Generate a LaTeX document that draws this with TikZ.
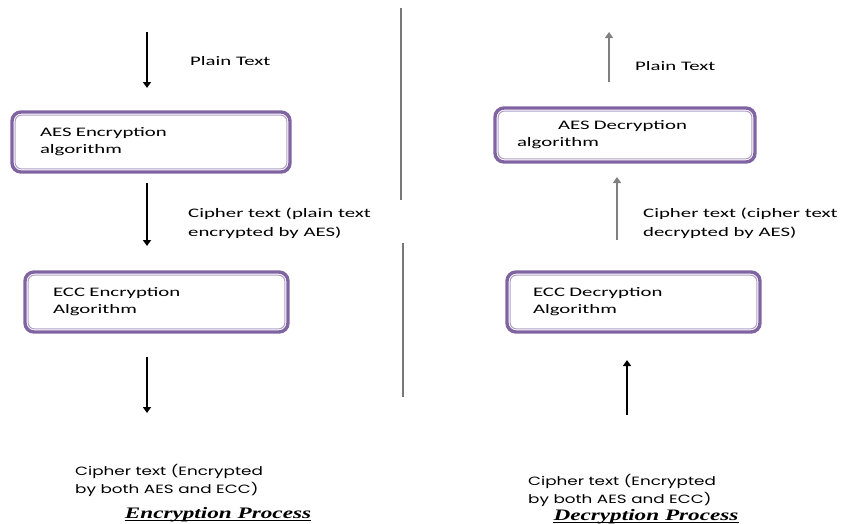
\documentclass[tikz,border=0pt]{standalone}
\usepackage{fontspec}
\usetikzlibrary{arrows.meta}
\newfontfamily\calib[FakeStretch=1.6]{Carlito}
\newfontfamily\roundfont[FakeStretch=1.4]{Poppins}
\newfontfamily\headfont[FakeStretch=1.45]{Liberation Serif}
\definecolor{boxpurple}{RGB}{128,100,162}
\definecolor{framelight}{RGB}{178,160,200}
\definecolor{flowgray}{RGB}{128,128,128}
\definecolor{dividergray}{RGB}{120,120,120}
\begin{document}
\begin{tikzpicture}[x=1pt,y=-1pt,
  algbox/.style={draw=boxpurple, line width=3.4pt, rounded corners=9pt, fill=white,
    outer sep=0pt, inner ysep=0pt, align=left,
    font=\calib\fontsize{13}{17}\selectfont},
  innerframe/.style={draw=framelight, line width=1pt, rounded corners=6pt},
  flow/.style={line width=1.8pt, -{Triangle[width=8pt,length=6pt]}},
  grayflow/.style={flow, draw=flowgray, color=flowgray},
  label/.style={font=\calib\fontsize{13}{19}\selectfont, align=left, anchor=base west, inner sep=0pt},
  cipherlabel/.style={font=\roundfont\fontsize{12}{17.5}\selectfont, align=left, anchor=base west, inner sep=0pt},
  heading/.style={font=\headfont\fontsize{16}{18}\selectfont\bfseries\itshape, inner sep=0pt, anchor=base},
  divider/.style={draw=dividergray, line width=1.3pt}]
\useasboundingbox (0,0) rectangle (850,523);

% ---- encryption side ----
\node[algbox, minimum width=278pt, minimum height=60pt, inner xsep=28pt, text width=222pt]
  (aesE) at (151,142) {AES Encryption\\algorithm};
\node[algbox, minimum width=263pt, minimum height=60pt, inner xsep=28pt, text width=207pt]
  (eccE) at (156.5,302) {ECC Encryption\\Algorithm};

% ---- decryption side ----
\node[algbox, minimum width=260pt, minimum height=54pt, inner xsep=22pt, text width=216pt]
  (aesD) at (625,135) {\hspace*{41pt}AES Decryption\\algorithm};
\node[algbox, minimum width=253pt, minimum height=60pt, inner xsep=26pt, text width=201pt]
  (eccD) at (633.5,302) {ECC Decryption\\Algorithm};

% thin inner line of each frame
\foreach \b in {aesE,eccE,aesD,eccD}
  \draw[innerframe] ([shift={(3.2,3.2)}]\b.north west) rectangle ([shift={(-3.2,-3.2)}]\b.south east);

% arrow end points
\coordinate (e1s) at (147,32);  \coordinate (e1e) at (147,88);
\coordinate (e2s) at (147,183); \coordinate (e2e) at (147,246);
\coordinate (e3s) at (147,357); \coordinate (e3e) at (147,413);
\coordinate (d1s) at (609,82);  \coordinate (d1e) at (609,32);
\coordinate (d2s) at (617,240); \coordinate (d2e) at (617,177);
\coordinate (d3s) at (627,415); \coordinate (d3e) at (627,360);

\draw[flow] (e1s) -- (e1e);
\draw[flow] (e2s) -- (e2e);
\draw[flow] (e3s) -- (e3e);
\draw[grayflow] (d1s) -- (d1e);
\draw[grayflow] (d2s) -- (d2e);
\draw[flow] (d3s) -- (d3e);

% labels (base anchor sits on the last line)
\node[label] (ptE) at (190,65) {Plain Text};
\node[label] (ctE) at (188,236) {Cipher text (plain text\\encrypted by AES)};
\node[label] (ptD) at (635,70) {Plain Text};
\node[label] (ctD) at (643,236) {Cipher text (cipher text\\decrypted by AES)};
\node[cipherlabel] (finE) at (75,493) {Cipher text (Encrypted\\by both AES and ECC)};
\node[cipherlabel] (finD) at (528,503) {Cipher text (Encrypted\\by both AES and ECC)};

% headings with underline
\node[heading] (encT) at (218,518) {Encryption Process};
\node[heading] (decT) at (646,520) {Decryption Process};
\draw[line width=1.2pt] ([yshift=-2.2pt]encT.base west) -- ([yshift=-2.2pt]encT.base east);
\draw[line width=1.2pt] ([yshift=-2.2pt]decT.base west) -- ([yshift=-2.2pt]decT.base east);

% separating line
\coordinate (v1a) at (401,8);   \coordinate (v1b) at (401,200);
\coordinate (v2a) at (403,243); \coordinate (v2b) at (403,397);
\draw[divider] (v1a) -- (v1b);
\draw[divider] (v2a) -- (v2b);
\end{tikzpicture}
\end{document}
